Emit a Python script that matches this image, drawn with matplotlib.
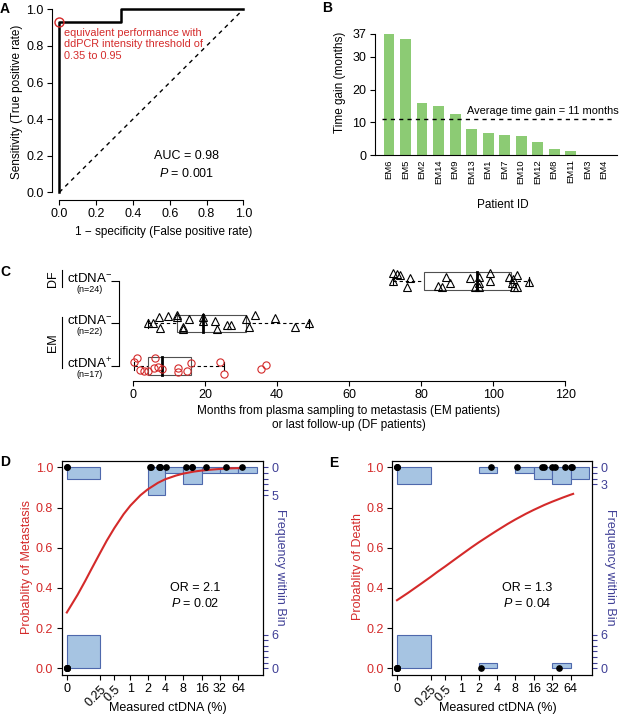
import numpy as np
import matplotlib.pyplot as plt
from matplotlib.patches import Rectangle

plt.rcParams['font.family'] = ['Liberation Sans', 'DejaVu Sans']
plt.rcParams['mathtext.fontset'] = 'custom'
plt.rcParams['mathtext.rm'] = 'Liberation Sans'
plt.rcParams['mathtext.it'] = 'Liberation Sans:italic'
plt.rcParams['font.size'] = 8.5
plt.rcParams['xtick.labelsize'] = 9
plt.rcParams['ytick.labelsize'] = 9
plt.rcParams['axes.linewidth'] = 0.8
plt.rcParams['xtick.major.size'] = 3.6
plt.rcParams['ytick.major.size'] = 3.6
plt.rcParams['xtick.major.width'] = 0.8
plt.rcParams['ytick.major.width'] = 0.8
plt.rcParams['xtick.major.pad'] = 2.5
plt.rcParams['ytick.major.pad'] = 2.5

# ---------------- data ----------------
# A: ROC curve of ctDNA detection
roc_fpr = [0, 0, 1/3, 1/3, 1]
roc_tpr = [0, 13/14, 13/14, 1, 1]
auc_txt = 'AUC = 0.98'
auc_p = '$P$ = 0.001'

# B: time gain per patient
patient_ids = ['EM6', 'EM5', 'EM2', 'EM14', 'EM9', 'EM13', 'EM1', 'EM7',
               'EM10', 'EM12', 'EM8', 'EM11', 'EM3', 'EM4']
time_gain = [37, 35.6, 15.8, 15.0, 12.4, 7.9, 6.8, 6.2, 5.9, 3.9, 1.9, 1.1, 0, 0]
avg_gain = 11

# C: months from plasma sampling (value, vertical jitter)
df_neg = [72.1, 73.2, 74.2, 72.1, 76.8, 76.0, 86.9, 84.8, 85.7, 88.1, 93.6, 95.0,
          96.2, 96.2, 96.2, 99.0, 99.0, 104.5, 105.3, 105.5, 105.8, 106.5, 106.5, 110.0]
df_neg_jit = [0.18, 0.17, 0.13, 0.0, 0.07, -0.13, 0.1, -0.11, -0.15, -0.05, 0.07, -0.15,
              0.09, -0.05, -0.15, 0.18, 0.0, 0.09, -0.05, 0.05, -0.13, 0.15, -0.13, -0.03]
em_neg = [4.3, 5.5, 7.3, 7.5, 9.8, 12.1, 12.3, 13.8, 14.0, 15.6, 19.5, 19.5,
          22.8, 23.4, 26.0, 27.2, 31.3, 32.2, 33.9, 39.3, 45.0, 49.0]
em_neg_jit = [0.0, 0.02, 0.15, -0.11, 0.17, 0.19, 0.15, -0.09, -0.12, 0.1, 0.15, 0.07,
              0.05, -0.13, -0.03, -0.04, 0.11, -0.09, 0.19, 0.13, -0.09, 0.02]
em_pos = [0.3, 1.2, 1.9, 3.1, 4.1, 5.8, 6.2, 7.0, 8.0, 12.5, 12.5, 15.0, 16.0,
          24.1, 25.2, 35.5, 36.8]
em_pos_jit = [0.1, 0.19, -0.1, -0.12, -0.12, -0.04, 0.18, -0.02, -0.08, -0.04, -0.13,
              -0.12, 0.07, 0.1, -0.18, -0.08, 0.02]
row_names = ['ctDNA$^{+}$', 'ctDNA$^{-}$', 'ctDNA$^{-}$']
row_n = ['(n=17)', '(n=22)', '(n=24)']

# D / E: logistic fits with binned frequencies
bin_edges = [0, 0.25, 2, 4, 8, 16, 32, 64, 128]
ctdna_ticks = [0, 0.25, 0.5, 1, 2, 4, 8, 16, 32, 64]
met_yes = [0, 0, 2.2, 2.3, 3.1, 3.2, 3.3, 4.04, 8.8, 11.0, 11.2, 18.7, 39.7, 72.7]
met_no = [0, 0, 0, 0, 0, 0]
death_yes = [0, 0, 0, 3.2, 8.5, 22.2, 23.7, 32.2, 36.1, 51.2, 64.5, 67.1]
death_no = [0, 0, 0, 0, 0, 0, 2.2, 41.0]
curve_x = [0, 0.05, 0.1, 0.15, 0.25, 0.35, 0.5, 0.75, 1, 1.5, 2, 3, 4, 6, 8,
           12, 16, 24, 32, 48, 64, 70]
met_curve = [0.278, 0.366, 0.435, 0.491, 0.574, 0.635, 0.698, 0.767, 0.81, 0.861,
             0.89, 0.923, 0.941, 0.959, 0.969, 0.979, 0.984, 0.989, 0.992, 0.995,
             0.996, 0.996]
death_curve = [0.339, 0.375, 0.402, 0.423, 0.455, 0.48, 0.507, 0.541, 0.566, 0.602,
               0.627, 0.661, 0.685, 0.718, 0.74, 0.769, 0.788, 0.813, 0.829, 0.85,
               0.864, 0.868]

RED = '#D42A2A'
BLUE = '#3F3F96'
GREEN = '#8CCB74'
HIST_FILL = '#A6C4E2'
HIST_EDGE = '#4E68AC'

W, H = 627, 717
fig = plt.figure(figsize=(W / 100, H / 100), dpi=100)


def px_axes(left, top, right, bottom):
    return fig.add_axes([left / W, 1 - bottom / H, (right - left) / W, (bottom - top) / H])


def px_text(x, y, s, **kw):
    kw.setdefault('ha', 'center')
    kw.setdefault('va', 'center')
    fig.text(x / W, 1 - y / H, s, **kw)


def tr(v):
    # axis of panels D/E: log2(ctDNA + 0.1)
    return np.log2(np.asarray(v, dtype=float) + 0.1)


# ---------------- A ----------------
axA = px_axes(52, 2, 250.7, 199.6)
axA.plot(roc_fpr, roc_tpr, color='k', lw=1.8)
axA.plot([0, 1], [0, 1], color='k', lw=1, ls='--', dashes=(3, 3))
axA.plot(roc_fpr[1], roc_tpr[1], 'o', mfc='none', mec=RED, ms=6.5, mew=1)
axA.set_xlim(-0.04, 1.04)
axA.set_ylim(-0.04, 1.04)
ticks = np.linspace(0, 1, 6)
axA.set_xticks(ticks, [f'{t:.1f}' for t in ticks])
axA.set_yticks(ticks, [f'{t:.1f}' for t in ticks])
for s in ['top', 'right']:
    axA.spines[s].set_visible(False)
axA.spines['left'].set_bounds(0, 1)
axA.spines['bottom'].set_bounds(0, 1)
axA.text(0.027, 0.9, 'equivalent performance with\nddPCR intensity threshold of\n0.35 to 0.95',
         color=RED, fontsize=7.8, ha='left', va='top')
axA.text(0.69, 0.2, auc_txt, ha='center', va='center', fontsize=9)
axA.text(0.69, 0.104, auc_p, ha='center', va='center', fontsize=9)
px_text(16.7, 102, 'Sensitivity (True positive rate)', rotation=90)
px_text(164, 232, '1 \u2212 specificity (False positive rate)')

# ---------------- B ----------------
axB = px_axes(374.7, 30.7, 617, 155)
xb = np.arange(len(patient_ids))
axB.bar(xb, time_gain, width=0.65, color=GREEN)
axB.axhline(avg_gain, xmin=0.03, xmax=0.985, color='k', lw=1, ls='--', dashes=(3, 3))
axB.text(4.69, 13.5, f'Average time gain = {avg_gain} months', ha='left', va='center',
         fontsize=7.9, clip_on=False)
axB.set_xlim(-0.87, 13.8)
axB.set_ylim(0, 38)
axB.set_yticks([0, 10, 20, 30, 37])
axB.set_xticks(xb, patient_ids)
axB.tick_params(axis='x', length=0, pad=3, labelrotation=90, labelsize=6.8)
for s in ['top', 'right']:
    axB.spines[s].set_visible(False)
axB.spines['left'].set_bounds(0, 37)
px_text(339.7, 82, 'Time gain (months)', rotation=90)
px_text(503, 205, 'Patient ID')

# ---------------- C ----------------
axC = px_axes(119, 262, 572, 381)
groups = [(em_pos, em_pos_jit, 'o', RED), (em_neg, em_neg_jit, '^', 'k'),
          (df_neg, df_neg_jit, '^', 'k')]
bh = 0.21
for row, (vals, jit, mk, col) in enumerate(groups):
    v = np.sort(np.array(vals))
    n = len(v)
    half = (n + 1) // 2
    q1, med, q3 = np.median(v[:half]), np.median(v), np.median(v[n - half:])
    iqr = q3 - q1
    wlo = v[v >= q1 - 1.5 * iqr].min()
    whi = v[v <= q3 + 1.5 * iqr].max()
    axC.add_patch(Rectangle((q1, row - bh), q3 - q1, 2 * bh, fill=False,
                            ec='#505050', lw=0.8, zorder=2))
    axC.plot([med, med], [row - bh, row + bh], color='k', lw=2, zorder=2)
    axC.plot([wlo, q1], [row, row], color='k', lw=0.8, ls='--', dashes=(3, 2.5), zorder=1)
    axC.plot([q3, whi], [row, row], color='k', lw=0.8, ls='--', dashes=(3, 2.5), zorder=1)
    for w in (wlo, whi):
        axC.plot([w, w], [row - bh / 2, row + bh / 2], color='k', lw=0.8, zorder=1)
    axC.plot(vals, np.array(jit) + row, mk, mfc='none', mec=col, ms=5.2, mew=0.8,
             zorder=3, clip_on=False)
    axC.text(-0.064, row + 0.06, row_names[row], transform=axC.get_yaxis_transform(),
             ha='center', va='center', fontsize=9.5)
    axC.text(-0.064, row - 0.2, row_n[row], transform=axC.get_yaxis_transform(),
             ha='center', va='center', fontsize=6.5)
axC.set_xlim(-3.89, 121.9)
axC.set_ylim(-0.353, 2.447)
axC.set_xticks(np.arange(0, 121, 20))
axC.set_yticks([0, 1, 2], ['', '', ''])
axC.tick_params(axis='y', length=5.5)
for s in ['top', 'right']:
    axC.spines[s].set_visible(False)
axC.spines['left'].set_bounds(0, 2)
axC.spines['bottom'].set_bounds(0, 120)
ytr = axC.get_yaxis_transform()
axC.plot([-0.1265, -0.1265], [1.86, 2.26], color='k', lw=0.8, transform=ytr, clip_on=False)
axC.plot([-0.1265, -0.1265], [-0.05, 1.15], color='k', lw=0.8, transform=ytr, clip_on=False)
axC.text(-0.146, 2.06, 'DF', rotation=90, ha='center', va='center', transform=ytr, fontsize=9)
axC.text(-0.146, 0.54, 'EM', rotation=90, ha='center', va='center', transform=ytr, fontsize=9)
px_text(349, 418, 'Months from plasma sampling to metastasis (EM patients)\n'
        'or last follow-up (DF patients)')


# ---------------- D / E ----------------
def logit_panel(ax, yes, no, curve_p, or_txt, p_txt, xlim):
    k = 0.028
    edges = tr(bin_edges)
    n_yes, _ = np.histogram(yes, bins=bin_edges)
    n_no, _ = np.histogram(no, bins=bin_edges)
    widths = np.diff(edges)
    m = n_yes > 0
    ax.bar(edges[:-1][m], n_yes[m] * k, width=widths[m], bottom=1 - n_yes[m] * k,
           align='edge', color=HIST_FILL, edgecolor=HIST_EDGE, lw=0.8, zorder=1)
    m = n_no > 0
    ax.bar(edges[:-1][m], n_no[m] * k, width=widths[m], bottom=0,
           align='edge', color=HIST_FILL, edgecolor=HIST_EDGE, lw=0.8, zorder=1)
    ax.plot(tr(curve_x), curve_p, color=RED, lw=1.5, zorder=2)
    ax.plot(tr(yes), np.ones(len(yes)), 'o', color='k', ms=3.8, zorder=3, clip_on=False)
    ax.plot(tr(no), np.zeros(len(no)), 'o', color='k', ms=3.8, zorder=3, clip_on=False)
    ax.set_xlim(*xlim)
    ax.set_ylim(-0.033, 1.033)
    yt = np.linspace(0, 1, 6)
    ax.set_yticks(yt, [f'{t:.1f}' for t in yt])
    ax.tick_params(axis='y', labelcolor=RED)
    ax.set_xticks(tr(ctdna_ticks), [f'{t:g}' for t in ctdna_ticks])
    for lab in ax.get_xticklabels()[1:3]:
        lab.set_rotation(45)
        lab.set_ha('right')
        lab.set_rotation_mode('anchor')
    ax.text(3.66, 0.398, or_txt, ha='center', va='center', fontsize=9)
    ax.text(3.66, 0.325, p_txt, ha='center', va='center', fontsize=9)

    ax2 = ax.twinx()
    ax2.set_ylim(ax.get_ylim())
    top_n, bot_n = n_yes.max(), n_no.max()
    pos = [1 - i * k for i in range(top_n + 1)] + [i * k for i in range(bot_n + 1)]
    labs = [str(i) if i in (0, top_n) else '' for i in range(top_n + 1)] + \
           [str(i) if i in (0, bot_n) else '' for i in range(bot_n + 1)]
    ax2.set_yticks(pos, labs)
    ax2.tick_params(axis='y', colors=BLUE, length=3.6)
    return ax2


axD = px_axes(61.7, 460.7, 263.3, 675)
logit_panel(axD, met_yes, met_no, met_curve, 'OR = 2.1', '$P$ = 0.02', (-3.6, 7.36))
axE = px_axes(392, 460.7, 592.3, 675)
logit_panel(axE, death_yes, death_no, death_curve, 'OR = 1.3', '$P$ = 0.04', (-3.59, 7.16))

px_text(26.7, 567, 'Probablity of Metastasis', rotation=90, color=RED, fontsize=9)
px_text(280, 567, 'Frequency within Bin', rotation=270, color=BLUE, fontsize=9)
px_text(168, 708, 'Measured ctDNA (%)', fontsize=9)
px_text(358, 567, 'Probablity of Death', rotation=90, color=RED, fontsize=9)
px_text(609.7, 567, 'Frequency within Bin', rotation=270, color=BLUE, fontsize=9)
px_text(498, 708, 'Measured ctDNA (%)', fontsize=9)

# panel letters
for x, y, s in [(5, 9, 'A'), (327, 8, 'B'), (5, 272, 'C'), (5, 462, 'D'), (334, 463, 'E')]:
    px_text(x, y, s, fontweight='bold', fontsize=10)

fig.savefig('out.png', dpi=100)
